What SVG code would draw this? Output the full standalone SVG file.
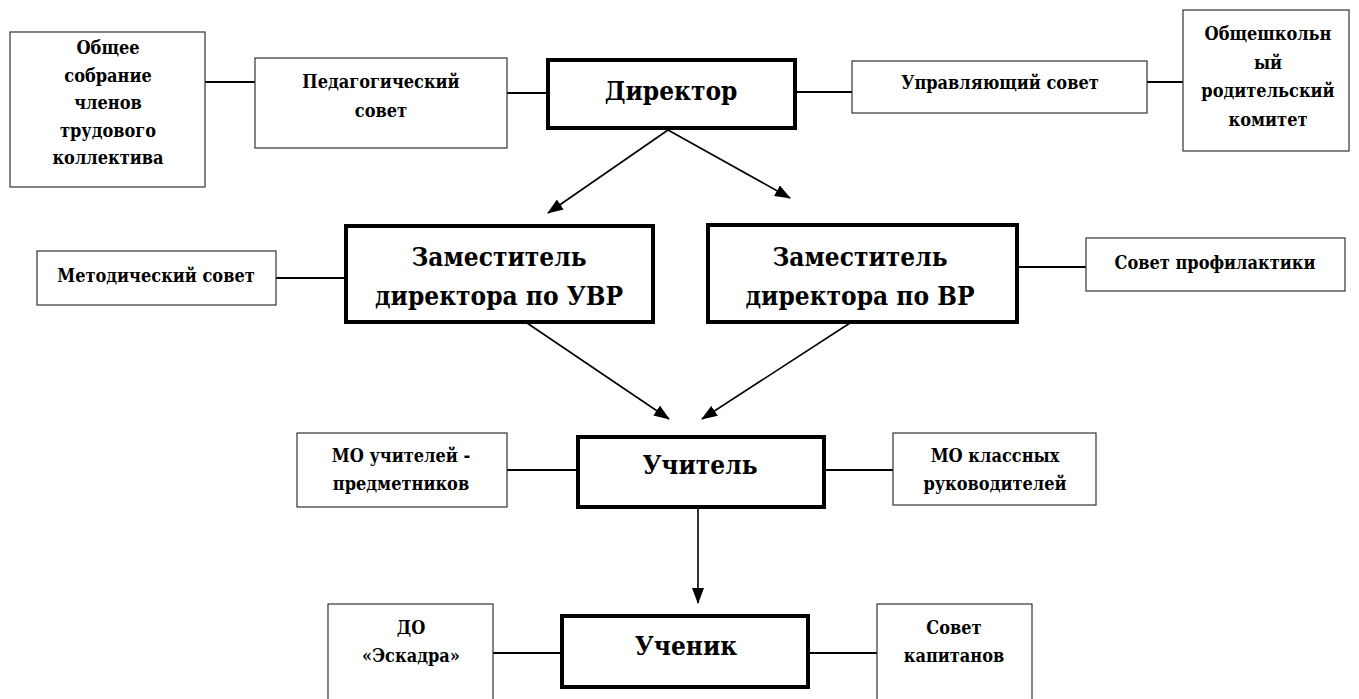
<svg xmlns="http://www.w3.org/2000/svg" width="1359" height="699" viewBox="0 0 1359 699">
<style>
.thin{fill:#fff;stroke:#333;stroke-width:1.2}
.thick{fill:#fff;stroke:#000;stroke-width:4}
text{font-family:'DejaVu Serif Condensed','DejaVu Serif','Liberation Serif',serif;font-weight:bold;text-anchor:middle;fill:#000}
.s{font-size:18px}
.b{font-size:26px}
.c{stroke:#000;stroke-width:2;fill:none}
.a{stroke:#000;stroke-width:1.6;fill:none;marker-end:url(#ah)}
</style>
<defs>
<marker id="ah" markerWidth="16" markerHeight="12" refX="15" refY="6" orient="auto" markerUnits="userSpaceOnUse">
<path d="M0,0 L16,6 L0,12 Z" fill="#000"/>
</marker>
</defs>
<rect width="1359" height="699" fill="#fff"/>
<g id="connectors">
<line class="c" x1="205" y1="82" x2="255" y2="82"/>
<line class="c" x1="507" y1="93" x2="548" y2="93"/>
<line class="c" x1="795" y1="92" x2="852" y2="92"/>
<line class="c" x1="1147" y1="82" x2="1183" y2="82"/>
<line class="c" x1="276" y1="278" x2="346" y2="278"/>
<line class="c" x1="1017" y1="267" x2="1086" y2="267"/>
<line class="c" x1="507" y1="470" x2="578" y2="470"/>
<line class="c" x1="824" y1="470" x2="893" y2="470"/>
<line class="c" x1="493" y1="653" x2="562" y2="653"/>
<line class="c" x1="808" y1="653" x2="877" y2="653"/>
<line class="a" x1="668" y1="130" x2="548" y2="213"/>
<line class="a" x1="668" y1="130" x2="790" y2="198"/>
<line class="a" x1="527" y1="323" x2="669" y2="419"/>
<line class="a" x1="850" y1="323" x2="702" y2="419"/>
<line class="a" x1="698" y1="509" x2="698" y2="603"/>
</g>
<g id="obshchee">
<rect class="thin" x="10" y="32" width="195" height="155"/>
<text class="s" x="108" y="54">Общее</text>
<text class="s" x="108" y="82">собрание</text>
<text class="s" x="108" y="109">членов</text>
<text class="s" x="108" y="137">трудового</text>
<text class="s" x="108" y="164">коллектива</text>
</g>
<g id="pedsovet">
<rect class="thin" x="255" y="58" width="252" height="90"/>
<text class="s" x="381" y="88">Педагогический</text>
<text class="s" x="381" y="117">совет</text>
</g>
<g id="director">
<rect class="thick" x="548" y="60" width="247" height="68"/>
<text class="b" x="671" y="100">Директор</text>
</g>
<g id="upravsovet">
<rect class="thin" x="852" y="61" width="295" height="52"/>
<text class="s" x="1000" y="89">Управляющий совет</text>
</g>
<g id="roditeli">
<rect class="thin" x="1183" y="10" width="166" height="141"/>
<text class="s" x="1268" y="40">Общешкольн</text>
<text class="s" x="1268" y="69">ый</text>
<text class="s" x="1268" y="97">родительский</text>
<text class="s" x="1268" y="126">комитет</text>
</g>
<g id="metodsovet">
<rect class="thin" x="37" y="251" width="239" height="54"/>
<text class="s" x="156" y="282">Методический совет</text>
</g>
<g id="zam-uvr">
<rect class="thick" x="346" y="226" width="307" height="96"/>
<text class="b" x="499" y="266">Заместитель</text>
<text class="b" x="499" y="305">директора по УВР</text>
</g>
<g id="zam-vr">
<rect class="thick" x="708" y="225" width="309" height="97"/>
<text class="b" x="860" y="266">Заместитель</text>
<text class="b" x="860" y="305">директора по ВР</text>
</g>
<g id="profilaktika">
<rect class="thin" x="1086" y="238" width="259" height="53"/>
<text class="s" x="1215" y="269">Совет профилактики</text>
</g>
<g id="mo-uchitelei">
<rect class="thin" x="297" y="433" width="210" height="74"/>
<text class="s" x="401" y="462">МО учителей -</text>
<text class="s" x="401" y="490">предметников</text>
</g>
<g id="uchitel">
<rect class="thick" x="578" y="437" width="246" height="70"/>
<text class="b" x="700" y="474">Учитель</text>
</g>
<g id="mo-klassnyh">
<rect class="thin" x="893" y="433" width="203" height="72"/>
<text class="s" x="995" y="462">МО классных</text>
<text class="s" x="995" y="490">руководителей</text>
</g>
<g id="do-eskadra">
<rect class="thin" x="328" y="604" width="165" height="100"/>
<text class="s" x="411" y="634">ДО</text>
<text class="s" x="411" y="662">«Эскадра»</text>
</g>
<g id="uchenik">
<rect class="thick" x="562" y="616" width="246" height="71"/>
<text class="b" x="686" y="655">Ученик</text>
</g>
<g id="sovet-kapitanov">
<rect class="thin" x="877" y="604" width="155" height="100"/>
<text class="s" x="954" y="634">Совет</text>
<text class="s" x="954" y="662">капитанов</text>
</g>
</svg>
